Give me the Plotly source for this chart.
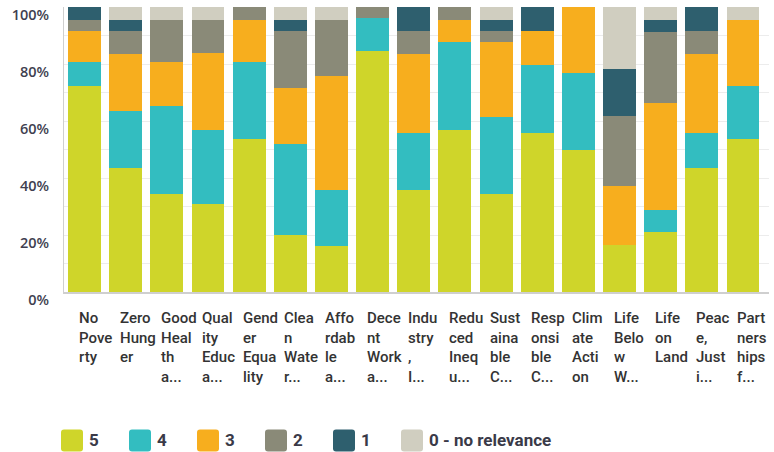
import plotly.graph_objects as go

categories = ["No Poverty", "Zero Hunger", "Good Health and Well-being", "Quality Education",
              "Gender Equality", "Clean Water and Sanitation", "Affordable and Clean Energy",
              "Decent Work and Economic Growth", "Industry, Innovation and Infrastructure",
              "Reduced Inequalities", "Sustainable Cities and Communities",
              "Responsible Consumption and Production", "Climate Action", "Life Below Water",
              "Life on Land", "Peace, Justice and Strong Institutions", "Partnerships for the Goals"]

tick_labels = ["No<br>Pove<br>rty", "Zero<br>Hung<br>er", "Good<br>Heal<br>th<br>a...",
               "Qual<br>ity<br>Educ<br>a...", "Gend<br>er<br>Equa<br>lity", "Clea<br>n<br>Wate<br>r...",
               "Affo<br>rdab<br>le<br>a...", "Dece<br>nt<br>Work<br>a...", "Indu<br>stry<br>,<br>I...",
               "Redu<br>ced<br>Ineq<br>u...", "Sust<br>aina<br>ble<br>C...", "Resp<br>onsi<br>ble<br>C...",
               "Clim<br>ate<br>Acti<br>on", "Life<br>Belo<br>w<br>W...", "Life<br>on<br>Land",
               "Peac<br>e,<br>Just<br>i...", "Part<br>ners<br>hips<br>f..."]

y_tick_values = [0, 20, 40, 60, 80, 100]
y_tick_labels = ["0%", "20%", "40%", "60%", "80%", "100%"]

s5 = [72.3, 43.6, 34.3, 31.0, 53.6, 19.9, 16.0, 84.4, 35.9, 57.0, 34.3, 55.8, 49.7, 16.6, 21.1, 43.6, 53.6]
s4 = [8.4, 19.9, 30.8, 26.0, 27.1, 32.0, 19.9, 11.7, 19.9, 30.8, 27.1, 23.7, 27.1, 0.0, 7.8, 12.2, 18.8]
s3 = [10.9, 19.9, 15.6, 27.0, 14.9, 19.8, 39.8, 0.0, 27.6, 7.8, 26.4, 12.1, 23.2, 20.5, 37.4, 27.6, 23.2]
s2 = [4.0, 8.2, 14.9, 11.6, 4.4, 19.9, 19.9, 3.9, 8.2, 4.4, 3.8, 0.0, 0.0, 24.7, 24.8, 8.2, 0.0]
s1 = [4.4, 4.0, 0.0, 0.0, 0.0, 4.0, 0.0, 0.0, 8.4, 0.0, 4.0, 8.4, 0.0, 16.6, 4.5, 8.4, 0.0]
s0 = [0.0, 4.4, 4.4, 4.4, 0.0, 4.4, 4.4, 0.0, 0.0, 0.0, 4.4, 0.0, 0.0, 21.6, 4.4, 0.0, 4.4]

series_names = ["5", "4", "3", "2", "1", "0 - no relevance"]
series_values = [s5, s4, s3, s2, s1, s0]
colors = ["#cfd52a", "#33bdc0", "#f7ae1e", "#8a8a78", "#2e5f6e", "#d0cec0"]

W, H = 774, 452
ML, MR, MT, MB = 64, 5, 7, 160
PW, PH = W - ML - MR, H - MT - MB

fig = go.Figure()
for name, vals, col in zip(series_names, series_values, colors):
    fig.add_trace(go.Bar(x=categories, y=vals, name=name, showlegend=False,
                         marker=dict(color=col, line=dict(width=0))))

# wrapped category labels, left-aligned near each bar's left edge
for cat, lab in zip(categories, tick_labels):
    fig.add_annotation(x=cat, y=0, xref="x", yref="paper", text=lab, showarrow=False,
                       xanchor="left", yanchor="top", align="left", xshift=-8, yshift=-15,
                       font=dict(family="Roboto, Arial, sans-serif", size=15, weight=500,
                                 color="#333"))

# custom legend with large rounded swatches
def px_to_paper_x(px):
    return (px - ML) / PW

def px_to_paper_y(py):
    return (H - MB - py) / PH

leg_x0, leg_step, leg_y = 61, 68, 440.5
r = 11
c = 3
swatch_path = (f"M {-r},{-r + c} Q {-r},{-r} {-r + c},{-r} L {r - c},{-r} Q {r},{-r} {r},{-r + c} "
               f"L {r},{r - c} Q {r},{r} {r - c},{r} L {-r + c},{r} Q {-r},{r} {-r},{r - c} Z")
for i, (name, col) in enumerate(zip(series_names, colors)):
    left = leg_x0 + i * leg_step
    fig.add_shape(type="path", path=swatch_path, xref="paper", yref="paper",
                  xsizemode="pixel", ysizemode="pixel",
                  xanchor=px_to_paper_x(left + r), yanchor=px_to_paper_y(leg_y),
                  fillcolor=col, line=dict(width=0), layer="above")
    fig.add_annotation(x=px_to_paper_x(left + 26), y=px_to_paper_y(leg_y - 1), xref="paper", yref="paper",
                       text=name, showarrow=False, xanchor="left", yanchor="middle",
                       font=dict(family="Roboto, Arial, sans-serif", size=17, weight="bold",
                                 color="#3a3a48"))

fig.update_layout(
    width=W, height=H,
    margin=dict(l=ML, r=MR, t=MT, b=MB, autoexpand=False),
    barmode="stack", bargap=0.2,
    plot_bgcolor="white", paper_bgcolor="white",
    font=dict(family="Roboto, Arial, sans-serif", color="#333"),
    showlegend=False,
    xaxis=dict(showticklabels=False, showline=True, linecolor="#cfcfcf", linewidth=2,
               showgrid=False, fixedrange=True, automargin=False),
    yaxis=dict(range=[0, 100], tickvals=y_tick_values, ticktext=y_tick_labels,
               showgrid=True, gridcolor="#ececec", gridwidth=1,
               minor=dict(tickvals=[10, 30, 50, 70, 90], showgrid=True, gridcolor="#ececec"),
               showline=True, linecolor="#cfcfcf", linewidth=1,
               ticklabelstandoff=11, ticklabelshift=8, ticklabeloverflow="allow",
               zeroline=False, automargin=False, fixedrange=True,
               tickfont=dict(family="Open Sans, Arial, sans-serif", size=14.5, weight=600,
                             color="#3f3f50")),
)

fig.write_html("out.html", config={"displayModeBar": False},
               post_script="document.body.style.margin='0';")
